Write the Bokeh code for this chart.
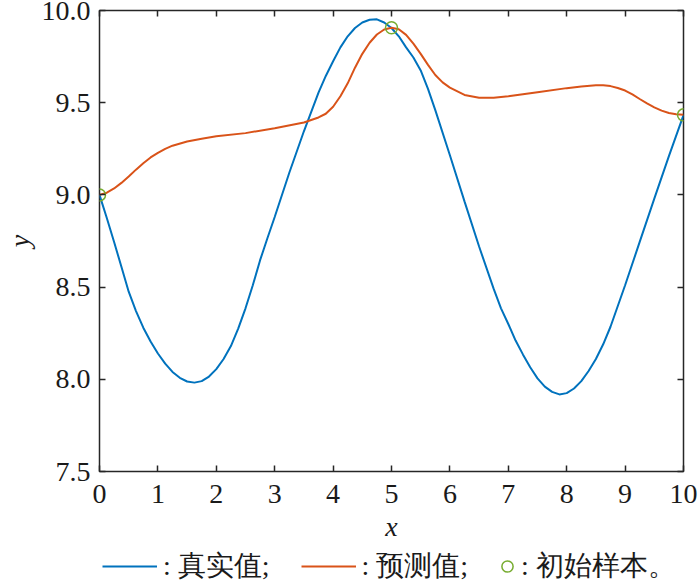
from bokeh.plotting import figure
from bokeh.layouts import column
from bokeh.models import (LinearAxis, Legend, LegendItem, FixedTicker, Range1d,
                          NumeralTickFormatter, ColumnDataSource)
from bokeh.embed import file_html
from bokeh.resources import INLINE

# ---------------- data ----------------
x_true = [0.0, 0.125, 0.25, 0.375, 0.5, 0.625, 0.75, 0.875, 1.0, 1.125, 1.25,
          1.375, 1.5, 1.625, 1.75, 1.875, 2.0, 2.125, 2.25, 2.375, 2.5, 2.625,
          2.75, 2.875, 3.0, 3.25, 3.5, 3.75, 3.875, 4.0, 4.125, 4.25, 4.375,
          4.5, 4.625, 4.75, 4.875, 5.0, 5.125, 5.25, 5.375, 5.5, 5.625, 5.75,
          6.0, 6.25, 6.5, 6.75, 6.875, 7.0, 7.125, 7.25, 7.375, 7.5, 7.625,
          7.75, 7.875, 8.0, 8.125, 8.25, 8.375, 8.5, 8.625, 8.75, 9.0, 9.25,
          9.5, 9.75, 10.0]
y_true = [9.000, 8.875, 8.745, 8.610, 8.475, 8.370, 8.280, 8.205, 8.140, 8.085,
          8.040, 8.008, 7.988, 7.982, 7.990, 8.015, 8.055, 8.110, 8.180, 8.275,
          8.385, 8.510, 8.646, 8.765, 8.880, 9.120, 9.345, 9.555, 9.645, 9.725,
          9.800, 9.860, 9.905, 9.935, 9.950, 9.952, 9.935, 9.905, 9.860, 9.800,
          9.745, 9.675, 9.575, 9.460, 9.215, 8.965, 8.720, 8.490, 8.385, 8.300,
          8.210, 8.135, 8.065, 8.005, 7.960, 7.932, 7.918, 7.925, 7.950, 7.990,
          8.045, 8.110, 8.190, 8.285, 8.510, 8.745, 8.980, 9.210, 9.433]

x_pred = [0.0, 0.125, 0.25, 0.375, 0.5, 0.625, 0.75, 0.875, 1.0, 1.125, 1.25,
          1.5, 1.75, 2.0, 2.5, 3.0, 3.5, 3.75, 3.875, 4.0, 4.125, 4.25, 4.375,
          4.5, 4.625, 4.75, 4.875, 5.0, 5.125, 5.25, 5.375, 5.5, 5.625, 5.75,
          5.875, 6.0, 6.25, 6.5, 6.75, 7.0, 7.5, 8.0, 8.25, 8.5, 8.625, 8.75,
          8.875, 9.0, 9.125, 9.25, 9.375, 9.5, 9.625, 9.75, 9.875, 10.0]
y_pred = [9.000, 9.012, 9.035, 9.065, 9.100, 9.137, 9.172, 9.203, 9.228, 9.250,
          9.267, 9.290, 9.305, 9.318, 9.335, 9.362, 9.393, 9.420, 9.440, 9.478,
          9.535, 9.605, 9.690, 9.765, 9.825, 9.870, 9.897, 9.906, 9.898, 9.868,
          9.820, 9.765, 9.705, 9.650, 9.610, 9.582, 9.542, 9.527, 9.527, 9.535,
          9.557, 9.579, 9.588, 9.594, 9.594, 9.590, 9.580, 9.566, 9.545, 9.520,
          9.496, 9.475, 9.457, 9.444, 9.437, 9.434]

x_samples = [0.0, 5.0, 10.0]
y_samples = [9.000, 9.906, 9.434]

x_ticks = [0, 1, 2, 3, 4, 5, 6, 7, 8, 9, 10]
y_ticks = [7.5, 8.0, 8.5, 9.0, 9.5, 10.0]

labels = [": 真实值;", ": 预测值;", ": 初始样本。"]

BLUE = "#0072BD"
ORANGE = "#D95319"
GREEN = "#77AC30"
AXIS = "#262626"
TXT = "#1a1a1a"

# ---------------- main figure ----------------
p = figure(width=700, height=545, output_backend="svg", toolbar_location=None,
           x_range=Range1d(0, 10), y_range=Range1d(7.5, 10),
           x_axis_type=None, y_axis_type=None,
           min_border_left=99, min_border_right=17,
           min_border_top=10, min_border_bottom=74)
p.grid.visible = False
p.outline_line_color = AXIS
p.outline_line_width = 1.5
p.background_fill_color = "white"
p.border_fill_color = "white"


def style_axis(ax, ticks, show_labels):
    ax.ticker = FixedTicker(ticks=ticks)
    ax.axis_line_color = None
    ax.major_tick_in = 6
    ax.major_tick_out = 0
    ax.major_tick_line_color = AXIS
    ax.major_tick_line_width = 1.5
    ax.minor_tick_line_color = None
    ax.major_label_text_font = "Liberation Serif"
    if show_labels:
        ax.major_label_text_font_size = "28px"
        ax.major_label_text_color = TXT
    else:
        ax.major_label_text_font_size = "1px"
        ax.major_label_text_color = None
        ax.major_label_standoff = 0


xb = LinearAxis(axis_label="x")
style_axis(xb, x_ticks, True)
xb.major_label_standoff = 13
xb.axis_label_text_font = "Liberation Serif"
xb.axis_label_text_font_style = "italic"
xb.axis_label_text_font_size = "28px"
xb.axis_label_standoff = 5
xb.axis_label_text_color = TXT

yl = LinearAxis(axis_label="y")
style_axis(yl, y_ticks, True)
yl.formatter = NumeralTickFormatter(format="0.0")
yl.major_label_standoff = 9
yl.axis_label_text_font = "Liberation Serif"
yl.axis_label_text_font_style = "italic"
yl.axis_label_text_font_size = "28px"
yl.axis_label_standoff = 4
yl.axis_label_text_color = TXT

xt = LinearAxis()
style_axis(xt, x_ticks, False)
yr = LinearAxis()
style_axis(yr, y_ticks, False)

p.add_layout(xb, "below")
p.add_layout(yl, "left")
p.add_layout(xt, "above")
p.add_layout(yr, "right")

src_true = ColumnDataSource(dict(x=x_true, y=y_true))
src_pred = ColumnDataSource(dict(x=x_pred, y=y_pred))
src_pts = ColumnDataSource(dict(x=x_samples, y=y_samples))

line_true = dict(line_color=BLUE, line_width=2)
line_pred = dict(line_color=ORANGE, line_width=2)
pts_style = dict(marker="circle", size=12, fill_color=None,
                 line_color=GREEN, line_width=1.5)

p.line("x", "y", source=src_true, **line_true)
p.line("x", "y", source=src_pred, **line_pred)
p.scatter("x", "y", source=src_pts, **pts_style)

# ---------------- legend strip ----------------
q = figure(width=700, height=35, output_backend="svg", toolbar_location=None,
           x_range=Range1d(0, 1), y_range=Range1d(0, 1),
           x_axis_type=None, y_axis_type=None, min_border=0)
q.grid.visible = False
q.outline_line_color = None
q.background_fill_color = "white"
q.border_fill_color = "white"

# same series renderers; their data lie outside this strip's ranges,
# so only their legend glyphs show
q_true = q.line("x", "y", source=src_true, **line_true)
q_pred = q.line("x", "y", source=src_pred, **line_pred)
q_pts = q.scatter("x", "y", source=src_pts, **pts_style)

common = dict(orientation="horizontal", glyph_height=30, padding=0, margin=0,
              border_line_color=None, background_fill_alpha=0,
              label_text_font="Liberation Serif", label_text_font_size="28px",
              label_text_color=TXT)

leg1 = Legend(items=[LegendItem(label=labels[0], renderers=[q_true]),
                     LegendItem(label=labels[1], renderers=[q_pred])],
              location=(3, -5), glyph_width=55, label_standoff=6, spacing=31,
              **common)
leg2 = Legend(items=[LegendItem(label=labels[2], renderers=[q_pts])],
              location=(394, -5), glyph_width=28, label_standoff=0, **common)
q.add_layout(leg1, "center")
q.add_layout(leg2, "center")

layout = column(p, q, spacing=0)
open("out.html", "w").write(file_html(layout, INLINE))
